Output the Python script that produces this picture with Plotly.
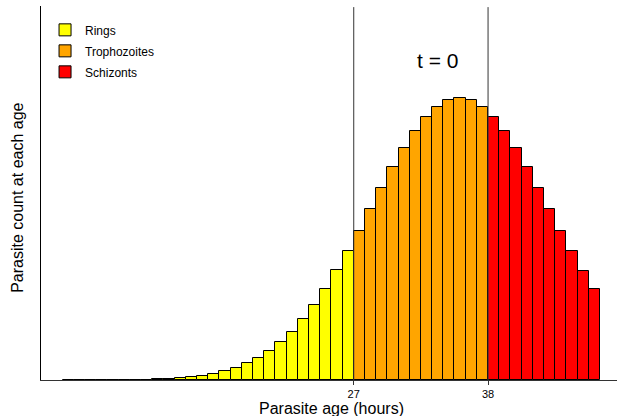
import plotly.graph_objects as go

ages = list(range(1, 49))
counts = [0.1, 0.1, 0.1, 0.1, 0.1, 0.1, 0.2, 0.3, 0.6, 1.0, 1.7, 2.7, 4.0, 6.0, 8.7, 12.3,
          16.7, 22.3, 29.0, 38.0, 48.3, 61.0, 75.0, 91.0, 109.7, 129.4,
          149.0, 170.6, 192.0, 212.6, 232.0, 249.0, 262.6, 273.3, 280.0, 282.0, 280.0, 273.3,
          262.6, 249.0, 232.0, 212.6, 192.0, 170.6, 149.0, 129.0, 109.3, 91.0]
stage_names = ["Rings", "Trophozoites", "Schizonts"]
stage_colors = ["#FFFF00", "#FFA500", "#FF0000"]
stage_ranges = [(1, 26), (27, 38), (39, 48)]
tick_vals = [26.5, 38.5]
tick_text = ["27", "38"]
vlines = [26.5, 38.5]

fig = go.Figure()
for name, col, (a, b) in zip(stage_names, stage_colors, stage_ranges):
    xs = [x for x in ages if a <= x <= b]
    ys = [counts[x - 1] for x in xs]
    fig.add_trace(go.Bar(x=xs, y=ys, name=name, legendgroup=name, width=1,
                         marker=dict(color=col, line=dict(color="black", width=1))))

for v in vlines:
    fig.add_shape(type="line", xref="x", yref="paper", x0=v, x1=v, y0=0, y1=0.997,
                  line=dict(color="#333333", width=1))

fig.add_annotation(x=34.0, xref="x", y=320, yref="y", text="t = 0", showarrow=False,
                   font=dict(size=21, color="black"), yanchor="middle")
fig.add_annotation(x=0.504, xref="paper", y=-0.076, yref="paper", text="Parasite age (hours)",
                   showarrow=False, font=dict(size=16, color="black"), yanchor="middle")
fig.add_annotation(x=-0.041, xref="paper", y=0.488, yref="paper", text="Parasite count at each age",
                   textangle=-90, showarrow=False, font=dict(size=16, color="black"),
                   xanchor="center", yanchor="middle")

fig.update_layout(
    width=617, height=416,
    margin=dict(l=41, r=0, t=6, b=36),
    plot_bgcolor="white", paper_bgcolor="white",
    font=dict(family="Liberation Sans, Arial, sans-serif", color="black"),
    bargap=0,
    showlegend=True,
    legend=dict(x=0.007, y=0.975, xanchor="left", yanchor="top", font=dict(size=12),
                traceorder="grouped", tracegroupgap=2, bgcolor="rgba(0,0,0,0)"),
    xaxis=dict(range=[-1.44, 50.02], showgrid=False, zeroline=False, showline=True,
               linecolor="#333333", linewidth=1, tickvals=tick_vals, ticktext=tick_text,
               ticks="outside", ticklen=4, tickcolor="#333333", tickfont=dict(size=11),
               ticklabelstandoff=0),
    yaxis=dict(range=[0, 374], showgrid=False, zeroline=False, showline=True,
               linecolor="black", linewidth=1, showticklabels=False, ticks=""),
)

fig.write_html("out.html")
